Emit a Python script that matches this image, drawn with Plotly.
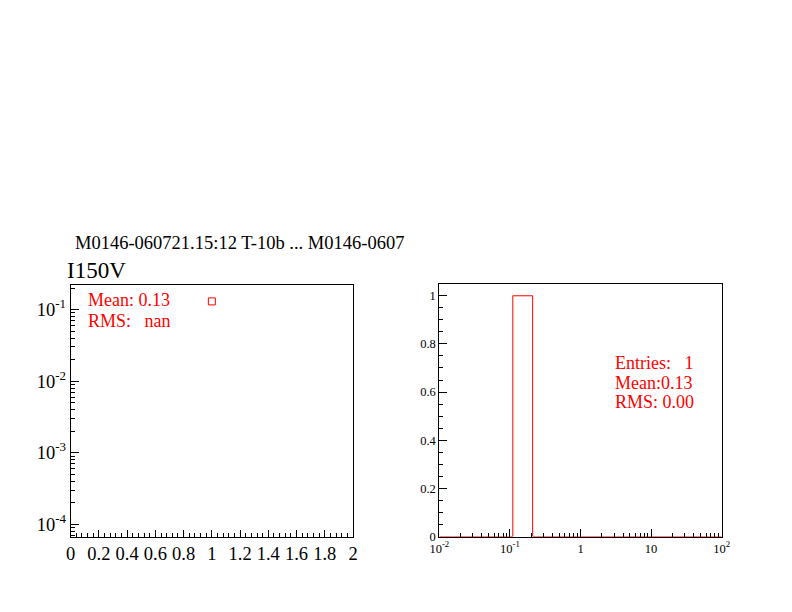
import plotly.graph_objects as go

# ---- data ----
left_x = [1.0]
left_y = [0.13]
left_stats = ["Mean: 0.13", "RMS:   nan"]

hist_edges = [0.01, 0.11, 0.21, 100.0]
hist_counts = [0, 1, 0]
right_stats = ["Entries:   1", "Mean:0.13", "RMS: 0.00"]

title_top = "M0146-060721.15:12 T-10b ... M0146-0607"
title_left = "I150V"

left_xticks = [0, 0.2, 0.4, 0.6, 0.8, 1, 1.2, 1.4, 1.6, 1.8, 2]
left_xticktext = ["0", "0.2", "0.4", "0.6", "0.8", "1", "1.2", "1.4", "1.6", "1.8", "2"]
left_yticks = [1e-4, 1e-3, 1e-2, 1e-1]
left_yticktext = ["10<sup>-4</sup>", "10<sup>-3</sup>", "10<sup>-2</sup>", "10<sup>-1</sup>"]
right_xticks = [0.01, 0.1, 1, 10, 100]
right_xticktext = ["10<sup>-2</sup>", "10<sup>-1</sup>", "1", "10", "10<sup>2</sup>"]
right_yticks = [0, 0.2, 0.4, 0.6, 0.8, 1]
right_yticktext = ["0", "0.2", "0.4", "0.6", "0.8", "1"]

OFF = 8  # page body margin
W, H = 792 - 2 * OFF, 612 - 2 * OFF
FONT = "Liberation Serif"

def px(x):
    return (x - OFF) / W

def py(y):
    return 1 - (y - OFF) / H

fig = go.Figure()

fig.add_trace(go.Scatter(
    x=left_x, y=left_y, mode="markers",
    marker=dict(symbol="square-open", size=7, color="red", line=dict(width=1)),
    xaxis="x", yaxis="y", showlegend=False, hoverinfo="skip"))

step_x = hist_edges
step_y = hist_counts + [hist_counts[-1]]
fig.add_trace(go.Scatter(
    x=step_x, y=step_y, mode="lines", line=dict(color="red", width=1, shape="hv"),
    xaxis="x2", yaxis="y2", showlegend=False, hoverinfo="skip"))

axcommon = dict(showgrid=False, zeroline=False, showline=True, linecolor="black",
                linewidth=1, mirror=True, ticks="inside", tickcolor="black",
                automargin=False)

fig.update_layout(
    width=W, height=H,
    margin=dict(l=0, r=0, t=0, b=0),
    paper_bgcolor="white", plot_bgcolor="white",
    font=dict(family=FONT, color="black"),
    xaxis=dict(domain=[px(70.7), px(353)], range=[0, 2], tickvals=left_xticks,
               ticktext=left_xticktext, ticklen=7, tickfont=dict(size=18.5),
               minor=dict(dtick=0.04, ticks="inside", ticklen=4, tickcolor="black"),
               anchor="y", **axcommon),
    yaxis=dict(domain=[py(536.5), py(284.5)], type="log", range=[-4.17, -0.65],
               tickvals=left_yticks, ticktext=left_yticktext, ticklen=8,
               tickfont=dict(size=18.5),
               minor=dict(ticks="inside", ticklen=4, tickcolor="black", dtick="D1"),
               anchor="x", **axcommon),
    xaxis2=dict(domain=[px(439.3), px(721.7)], type="log", range=[-2, 2],
                tickvals=right_xticks, ticktext=right_xticktext, ticklen=8,
                tickfont=dict(size=12.5),
                minor=dict(ticks="inside", ticklen=4, tickcolor="black", dtick="D1"),
                anchor="y2", **axcommon),
    yaxis2=dict(domain=[py(536.5), py(283.5)], range=[0, 1.051],
                tickvals=right_yticks, ticktext=right_yticktext, ticklen=8,
                tickfont=dict(size=12.5),
                minor=dict(dtick=0.05, ticks="inside", ticklen=4, tickcolor="black"),
                anchor="x2", **axcommon),
)

annots = [
    dict(text=title_top, x=px(73), y=py(243), xanchor="left", yanchor="middle",
         font=dict(size=18.5, color="black")),
    dict(text=title_left, x=px(65), y=py(270), xanchor="left", yanchor="middle",
         font=dict(size=23, color="black")),
]
for i, s in enumerate(left_stats):
    annots.append(dict(text=s, x=px(86), y=py(300 + 21 * i), xanchor="left",
                       yanchor="middle", font=dict(size=18, color="red")))
for i, s in enumerate(right_stats):
    annots.append(dict(text=s, x=px(613), y=py(363 + 19.5 * i), xanchor="left",
                       yanchor="middle", font=dict(size=18, color="red")))
for a in annots:
    a.update(xref="paper", yref="paper", showarrow=False)
fig.update_layout(annotations=annots)

fig.write_html("out.html")
